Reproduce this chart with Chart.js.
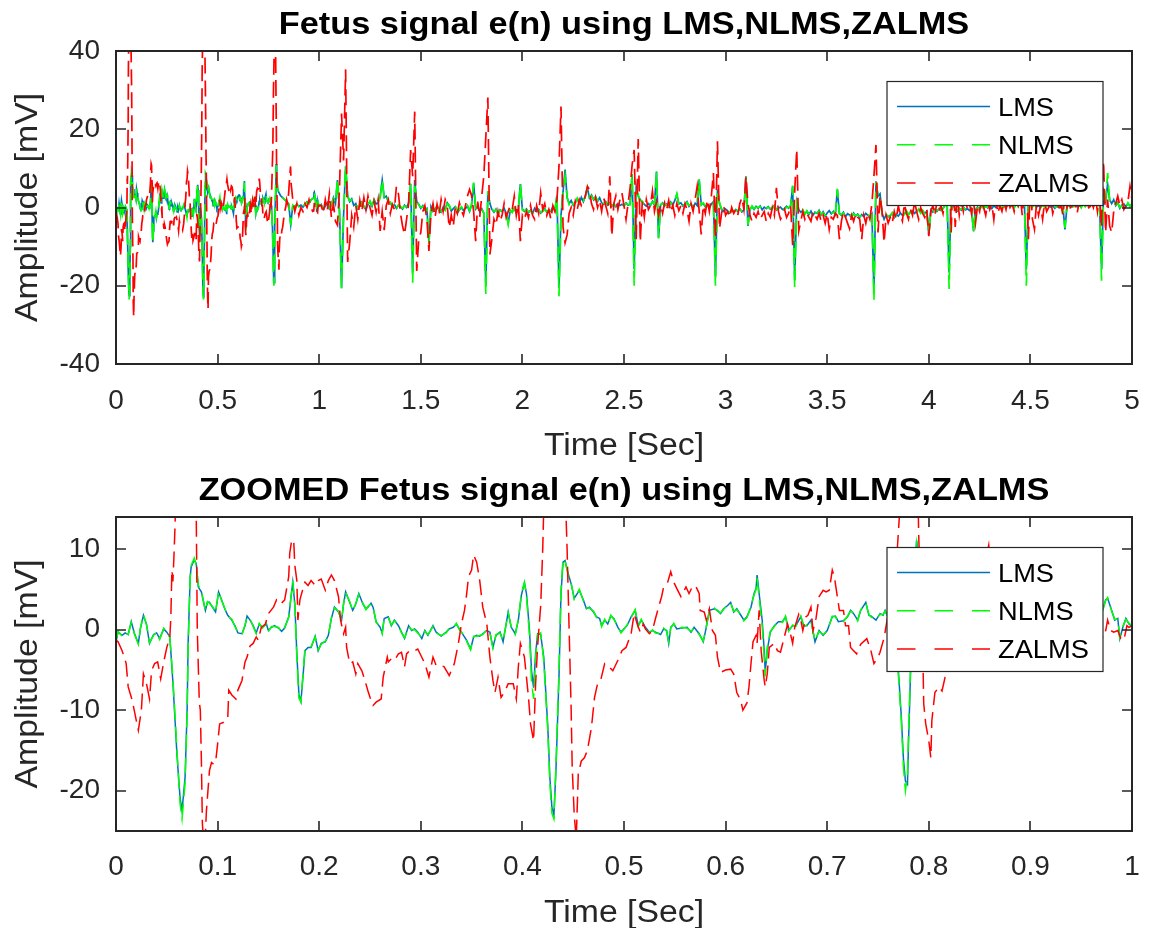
<!DOCTYPE html>
<html>
<head>
<meta charset="utf-8">
<script src="https://cdn.jsdelivr.net/npm/chart.js@4.4.0/dist/chart.umd.min.js"></script>
<style>
  html, body { margin: 0; padding: 0; background: #fff; }
  #wrap { position: relative; width: 1149px; height: 928px; }
  #wrap canvas { position: absolute; left: 0; }
</style>
</head>
<body>
<div id="wrap">
  <canvas id="topChart" width="1149" height="464" style="top:0"></canvas>
  <canvas id="zoomChart" width="1149" height="464" style="top:464px"></canvas>
</div>
<script>
// ---- data (time in s, amplitude in mV) ----
const seriesNames = ['LMS', 'NLMS', 'ZALMS'];
const seriesColors = ['#0072BD', '#00FF00', '#FF0000'];

// first second
const lmsT = [
  0.000, 0.002, 0.006, 0.009, 0.012, 0.015, 0.018, 0.022, 0.024, 0.027,
  0.030, 0.033, 0.037, 0.040, 0.043, 0.047, 0.050, 0.053, 0.056, 0.060,
  0.063, 0.065, 0.068, 0.070, 0.071, 0.073, 0.074, 0.077, 0.079, 0.081,
  0.084, 0.088, 0.090, 0.092, 0.096, 0.098, 0.101, 0.104, 0.107, 0.110,
  0.114, 0.117, 0.120, 0.124, 0.127, 0.129, 0.132, 0.135, 0.138, 0.141,
  0.144, 0.148, 0.150, 0.153, 0.156, 0.160, 0.163, 0.166, 0.170, 0.174,
  0.176, 0.178, 0.180, 0.182, 0.184, 0.186, 0.189, 0.192, 0.196, 0.199,
  0.202, 0.206, 0.209, 0.212, 0.215, 0.219, 0.222, 0.224, 0.226, 0.230,
  0.233, 0.236, 0.239, 0.243, 0.246, 0.248, 0.251, 0.253, 0.256, 0.260,
  0.262, 0.264, 0.268, 0.271, 0.274, 0.278, 0.281, 0.284, 0.288, 0.291,
  0.294, 0.297, 0.301, 0.304, 0.307, 0.312, 0.315, 0.320, 0.325, 0.328,
  0.332, 0.335, 0.338, 0.342, 0.345, 0.349, 0.352, 0.355, 0.358, 0.361,
  0.365, 0.368, 0.371, 0.374, 0.378, 0.381, 0.386, 0.389, 0.393, 0.396,
  0.399, 0.402, 0.404, 0.407, 0.409, 0.411, 0.413, 0.415, 0.418, 0.421,
  0.425, 0.427, 0.429, 0.431, 0.433, 0.436, 0.438, 0.440, 0.442, 0.445,
  0.448, 0.451, 0.456, 0.460, 0.463, 0.466, 0.470, 0.473, 0.476, 0.478,
  0.481, 0.484, 0.487, 0.490, 0.494, 0.497, 0.503, 0.507, 0.511, 0.514,
  0.517, 0.521, 0.525, 0.528, 0.531, 0.536, 0.539, 0.542, 0.544, 0.546,
  0.549, 0.552, 0.557, 0.562, 0.566, 0.569, 0.574, 0.578, 0.581, 0.584,
  0.589, 0.592, 0.595, 0.598, 0.602, 0.605, 0.608, 0.611, 0.615, 0.618,
  0.621, 0.625, 0.628, 0.630, 0.631, 0.633, 0.636, 0.638, 0.639, 0.641,
  0.644, 0.648, 0.652, 0.656, 0.659, 0.662, 0.666, 0.669, 0.674, 0.677,
  0.680, 0.684, 0.688, 0.692, 0.696, 0.700, 0.705, 0.708, 0.711, 0.716,
  0.720, 0.723, 0.726, 0.730, 0.733, 0.738, 0.741, 0.743, 0.748, 0.752,
  0.755, 0.757, 0.760, 0.763, 0.766, 0.770, 0.773, 0.775, 0.777, 0.779,
  0.780, 0.782, 0.785, 0.787, 0.788, 0.791, 0.795, 0.800, 0.810, 0.820,
  0.830, 0.840, 0.850, 0.860, 0.870, 0.880, 0.890, 0.900, 0.910, 0.920,
  0.930, 0.940, 0.950, 0.960, 0.966, 0.971, 0.974, 0.976, 0.980, 0.983,
  0.986, 0.988, 0.991, 0.994, 0.997, 1.000
];
const lmsV = [
  -1.5, -0.3, -0.7, -0.4, -0.6, 1.0, -0.4, -1.7, 0.1, 1.8,
  0.7, -1.7, -0.6, -0.4, -1.1, 0.1, -0.3, -0.9, -6.5, -15.5,
  -20.8, -22.5, -18.3, -10.0, -1.7, 6.6, 7.8, 8.7, 8.2, 5.3,
  4.7, 2.4, 3.4, 3.4, 2.6, 2.2, 4.7, 3.7, 2.6, 1.8,
  1.2, 0.5, -0.4, -0.5, 0.5, 1.7, 1.2, 0.5, -0.4, 0.7,
  0.3, 0.7, -0.1, 0.3, 0.5, 0.2, -0.2, 0.2, 1.6, 5.9,
  3.2, -3.0, -8.0, -8.9, -5.9, -2.6, -2.2, -2.2, -0.8, -2.6,
  -1.7, -1.5, -0.7, 1.4, 2.8, 2.2, 1.2, 3.2, 4.7, 3.4,
  2.4, 3.2, 4.5, 3.2, 2.6, 2.8, 3.3, 2.8, 1.0, 0.3,
  -0.4, 1.4, 1.6, 0.5, 1.2, 0.5, -0.3, -1.1, 0.5, -0.1,
  0.1, -0.3, -1.1, -0.1, -0.7, 0.5, -0.3, -0.8, -0.3, 0.1,
  0.3, 0.7, 0.1, -0.7, -1.3, -2.4, -0.9, -0.7, -0.8, -0.5,
  -0.1, -0.3, -2.2, -0.7, -0.3, -1.5, 2.2, 0.3, -0.5, 1.2,
  4.3, 5.8, 4.5, -0.1, -5.1, -7.2, -3.0, -0.5, -0.6, -3.4,
  -12.1, -18.3, -22.0, -23.0, -17.5, -5.9, 4.5, 8.4, 8.6, 7.0,
  5.7, 3.9, 4.9, 3.7, 2.6, 2.8, 2.2, 1.6, 1.4, 0.5,
  1.2, 0.7, 1.7, 1.4, 0.3, -0.3, 0.5, 1.6, 2.4, 0.5,
  1.2, 0.3, -0.3, -0.1, -0.3, -0.6, 0.1, -0.1, -1.7, 0.3,
  0.7, 0.1, 0.2, 0.3, -0.3, 0.3, -0.5, -1.5, 0.3, 2.4,
  2.6, 2.4, 2.0, 2.6, 3.0, 3.4, 2.2, 2.6, 1.8, 1.2,
  1.6, 2.8, 4.5, 5.1, 6.8, 4.5, 1.2, -2.6, -5.2, -2.6,
  -0.3, 0.5, 1.0, 1.0, 1.6, -0.1, 0.5, 0.5, 1.6, 0.5,
  0.5, 1.2, -1.5, -0.1, -0.7, -0.1, 1.6, 1.7, 1.0, 1.1,
  1.6, 2.4, 2.0, 1.2, 2.4, 3.4, 1.8, 1.7, 1.2, 2.0,
  1.8, 2.4, 1.5, 0.5, -1.0, -5.0, -10.9, -16.0, -18.8, -19.2,
  -14.2, -5.4, 3.0, 9.0, 11.1, 8.0, 5.0, 4.0, 3.0, 2.5,
  2.0, 1.5, 0.8, -4.3, 0.5, 0.2, 0.8, 0.3, 0.6, 0.1,
  0.9, 1.5, 1.0, 2.0, 2.2, 2.4, 3.7, 3.9, 2.4, 1.2,
  1.4, -1.1, 0.3, 1.4, 0.7, 0.4
];
const nlmsV = [
  -1.4, -0.2, -0.8, -0.3, -0.6, 0.9, -0.5, -1.8, 0.2, 1.9,
  0.6, -1.6, -0.7, -0.3, -1.2, 0.2, -0.2, -1.0, -6.0, -15.0,
  -21.5, -23.5, -19.0, -10.5, -2.0, 6.4, 8.0, 8.9, 8.0, 5.5,
  4.9, 2.3, 3.5, 3.3, 2.7, 2.1, 4.8, 3.6, 2.7, 1.7,
  1.3, 0.4, -0.3, -0.6, 0.6, 1.6, 1.3, 0.4, -0.5, 0.8,
  0.2, 0.8, -0.2, 0.4, 0.4, 0.3, -0.3, 0.3, 1.5, 6.1,
  3.0, -3.5, -8.5, -9.0, -5.5, -2.4, -2.3, -2.1, -0.9, -2.5,
  -1.8, -1.4, -0.8, 1.5, 2.7, 2.3, 1.1, 3.3, 4.6, 3.5,
  2.3, 3.3, 4.4, 3.3, 2.5, 2.9, 3.2, 2.9, 0.9, 0.4,
  -0.5, 1.5, 1.5, 0.6, 1.1, 0.6, -0.4, -1.0, 0.4, 0.0,
  0.0, -0.4, -1.0, -0.2, -0.6, 0.4, -0.4, -0.7, -0.4, 0.2,
  0.2, 0.8, 0.0, -0.6, -1.4, -2.5, -0.8, -0.8, -0.7, -0.6,
  0.0, -0.4, -2.3, -0.6, -0.4, -1.4, 2.1, 0.4, -0.6, 1.3,
  4.5, 5.9, 4.2, -0.8, -6.5, -8.6, -3.5, -0.6, -0.4, -3.8,
  -12.5, -19.0, -22.8, -23.5, -17.0, -5.0, 5.0, 8.8, 8.5, 6.8,
  5.8, 3.8, 5.0, 3.6, 2.7, 2.7, 2.3, 1.5, 1.5, 0.4,
  1.3, 0.6, 1.8, 1.3, 0.4, -0.4, 0.6, 1.5, 2.5, 0.4,
  1.3, 0.2, -0.4, 0.0, -0.4, -0.5, 0.2, -0.2, -1.5, 0.2,
  0.8, 0.0, 0.3, 0.2, -0.2, 0.2, -0.6, -1.4, 0.4, 2.3,
  2.7, 2.3, 2.1, 2.5, 3.1, 3.3, 2.3, 2.5, 1.9, 1.1,
  1.5, 2.9, 4.3, 5.0, 6.4, 4.0, 0.5, -3.5, -5.8, -2.2,
  -0.2, 0.4, 1.1, 0.9, 1.7, -0.2, 0.6, 0.4, 1.7, 0.4,
  0.6, 1.1, -1.4, -0.2, -0.6, -0.2, 1.7, 1.6, 1.1, 1.0,
  1.7, 2.3, 2.1, 1.1, 2.5, 3.3, 1.9, 1.6, 1.3, 1.9,
  1.9, 2.3, 1.6, 0.4, -1.2, -5.5, -11.5, -17.0, -20.0, -18.0,
  -13.0, -4.8, 3.5, 9.2, 10.8, 7.8, 5.2, 3.8, 3.1, 2.4,
  2.1, 1.4, 0.9, -4.6, 0.6, 0.1, 0.9, 0.2, 0.7, 0.0,
  1.0, 1.4, 1.1, 1.9, 2.3, 2.3, 3.6, 4.0, 2.3, 1.3,
  1.3, -1.0, 0.4, 1.3, 0.8, 0.5
];
const zaT = [
  0.000, 0.002, 0.006, 0.010, 0.012, 0.016, 0.020, 0.022, 0.025, 0.027,
  0.030, 0.033, 0.035, 0.038, 0.041, 0.044, 0.047, 0.050, 0.053, 0.054,
  0.055, 0.056, 0.057, 0.058, 0.060, 0.061, 0.063, 0.068, 0.072, 0.077,
  0.079, 0.080, 0.082, 0.083, 0.084, 0.085, 0.087, 0.089, 0.092, 0.094,
  0.096, 0.098, 0.100, 0.102, 0.106, 0.110, 0.111, 0.114, 0.118, 0.120,
  0.124, 0.125, 0.127, 0.129, 0.132, 0.135, 0.138, 0.140, 0.143, 0.147,
  0.150, 0.155, 0.158, 0.162, 0.166, 0.170, 0.171, 0.173, 0.175, 0.176,
  0.178, 0.179, 0.181, 0.184, 0.186, 0.189, 0.192, 0.196, 0.199, 0.202,
  0.206, 0.209, 0.212, 0.215, 0.219, 0.221, 0.224, 0.226, 0.227, 0.230,
  0.233, 0.236, 0.238, 0.242, 0.245, 0.248, 0.250, 0.253, 0.256, 0.261,
  0.263, 0.267, 0.268, 0.271, 0.274, 0.278, 0.281, 0.284, 0.286, 0.289,
  0.294, 0.297, 0.304, 0.308, 0.312, 0.315, 0.319, 0.323, 0.328, 0.333,
  0.337, 0.340, 0.343, 0.345, 0.347, 0.350, 0.352, 0.355, 0.358, 0.361,
  0.365, 0.368, 0.371, 0.373, 0.376, 0.379, 0.383, 0.386, 0.391, 0.394,
  0.396, 0.398, 0.402, 0.406, 0.408, 0.411, 0.413, 0.415, 0.418, 0.420,
  0.422, 0.424, 0.428, 0.435, 0.440, 0.443, 0.444, 0.446, 0.448, 0.449,
  0.451, 0.453, 0.455, 0.458, 0.461, 0.464, 0.468, 0.471, 0.474, 0.477,
  0.481, 0.484, 0.489, 0.494, 0.498, 0.502, 0.507, 0.510, 0.513, 0.516,
  0.519, 0.521, 0.525, 0.528, 0.531, 0.534, 0.537, 0.539, 0.543, 0.546,
  0.549, 0.552, 0.556, 0.561, 0.564, 0.568, 0.571, 0.574, 0.575, 0.579,
  0.581, 0.584, 0.587, 0.590, 0.592, 0.595, 0.600, 0.605, 0.608, 0.611,
  0.615, 0.617, 0.621, 0.623, 0.625, 0.627, 0.630, 0.631, 0.633, 0.635,
  0.638, 0.639, 0.641, 0.643, 0.648, 0.651, 0.654, 0.657, 0.661, 0.663,
  0.666, 0.668, 0.672, 0.674, 0.676, 0.679, 0.681, 0.684, 0.686, 0.689,
  0.692, 0.696, 0.699, 0.702, 0.705, 0.707, 0.710, 0.712, 0.716, 0.718,
  0.721, 0.723, 0.726, 0.729, 0.733, 0.739, 0.743, 0.746, 0.750, 0.752,
  0.756, 0.760, 0.763, 0.766, 0.770, 0.772, 0.775, 0.780, 0.785, 0.789,
  0.790, 0.792, 0.794, 0.795, 0.797, 0.800, 0.802, 0.803, 0.806, 0.810,
  0.813, 0.816, 0.820, 0.825, 0.830, 0.835, 0.840, 0.845, 0.850, 0.855,
  0.859, 0.862, 0.870, 0.880, 0.890, 0.900, 0.910, 0.920, 0.930, 0.940,
  0.950, 0.960, 0.968, 0.973, 0.976, 0.979, 0.982, 0.986, 0.989, 0.992,
  0.995, 0.997, 1.000
];
const zaV = [
  -1.3, -1.5, -2.6, -4.2, -7.1, -8.8, -11.3, -12.5, -10.0, -5.5,
  -6.7, -8.6, -5.1, -4.2, -4.0, -6.1, -4.0, -2.2, -0.9, 1.6,
  7.4, 6.0, 9.0, 12.5, 22.0, 35.0, 45.0, 52.0, 48.0, 30.0,
  14.0, 0.0, -9.0, -10.0, -16.0, -24.0, -28.0, -22.5, -17.5, -16.5,
  -16.7, -16.5, -14.2, -11.7, -11.5, -11.0, -7.5, -8.1, -8.6, -7.5,
  -6.3, -5.5, -4.0, -3.4, -2.0, -1.7, -0.9, -1.3, 0.3, 0.7,
  2.0, 2.8, 3.7, 3.2, 3.7, 6.6, 9.5, 11.2, 10.8, 8.0,
  6.1, 1.2, 3.7, 5.1, 5.9, 5.5, 6.1, 5.5, 6.1, 6.3,
  4.9, 6.1, 6.8, 6.1, 4.1, 1.2, -0.5, 0.3, -2.2, -4.2,
  -4.0, -5.5, -4.2, -5.1, -6.3, -7.6, -8.4, -9.4, -9.0, -8.6,
  -5.9, -3.4, -4.0, -3.6, -3.8, -3.0, -2.8, -4.6, -3.0, -2.6,
  -2.6, -2.4, -4.2, -5.9, -3.4, -4.4, -4.4, -4.6, -5.7, -4.2,
  -1.7, 0.7, 2.4, 4.3, 6.6, 7.4, 9.3, 8.4, 6.1, 2.8,
  0.7, -3.4, -6.3, -7.8, -5.9, -8.4, -7.6, -6.7, -6.7, -8.6,
  -4.6, -1.7, -3.4, -8.4, -11.7, -13.8, -6.7, -2.0, 3.0, 10.0,
  20.0, 35.0, 48.0, 50.0, 30.0, 14.0, 10.0, 0.0, -10.0, -17.0,
  -23.0, -26.0, -17.9, -16.3, -15.9, -15.0, -12.1, -8.4, -6.7, -6.3,
  -4.2, -4.4, -5.1, -3.8, -2.6, -2.2, -0.5, 2.0, 0.7, -0.3,
  0.7, 0.1, -0.5, -0.1, 1.4, 2.8, 4.1, 5.3, 5.9, 7.2,
  5.9, 5.1, 4.1, 5.3, 4.5, 5.5, 5.3, 4.5, 2.4, 2.2,
  1.2, 2.6, -0.1, -0.7, -3.4, -5.3, -5.0, -4.9, -5.5, -7.8,
  -8.8, -10.0, -9.1, -7.1, -4.2, -1.5, -0.7, -1.7, 2.4, -2.6,
  -6.3, -7.1, -5.5, -2.2, -1.7, -2.6, -2.8, -1.3, 0.7, -0.1,
  -1.7, 0.3, 1.9, 1.2, -0.1, 1.6, 1.8, 2.8, -0.1, 1.4,
  4.1, 4.9, 4.7, 4.9, 7.4, 6.6, 4.1, 2.4, 2.4, 0.5,
  0.5, -2.2, -2.6, -3.0, -1.8, -1.1, -2.6, -4.2, -3.4, -2.8,
  -1.0, 2.0, 0.0, 4.0, 12.0, 16.0, 30.0, 45.0, 42.0, 20.0,
  12.0, 4.0, -2.0, -9.2, -11.7, -13.8, -15.9, -11.3, -7.8, -7.1,
  -7.6, -5.9, -5.1, -3.0, -1.0, 0.0, 2.0, 1.0, 4.0, 8.0,
  10.5, 6.0, 2.0, -1.0, 1.0, -2.0, 0.0, -1.0, 1.0, 0.0,
  2.0, 0.0, -1.0, -0.9, 1.2, -0.1, -0.3, -0.1, -1.1, -1.3,
  0.5, 0.3, 0.5
];

// 1.01 s .. 5.00 s, one sample every 10 ms
const tailStart = 1.01, tailStep = 0.01;
const lmsTail = [
  0.8, -0.5, 0.3, 1.2, -0.3, 0.6, 2.5, 1.0, 7.0, -1.0,
  -20.5, -2.0, 10.5, 3.0, 1.5, 2.2, 0.5, 1.0, -0.3, 0.6,
  1.4, 0.2, -0.6, 0.8, 1.5, 0.3, 2.0, 0.9, 1.2, 2.8,
  7.0, 2.5, 2.9, 1.5, 1.2, 0.3, 0.8, -0.2, 0.5, 0.1,
  -0.4, 0.6, 0.0, 1.2, 6.0, -16.6, 7.0, 1.5, 0.8, -0.2,
  0.5, -0.6, -0.2, -9.0, 0.2, -1.0, -0.4, 0.3, -0.8, -1.2,
  0.1, -0.5, 1.2, 0.4, -0.9, -0.3, 0.2, -1.4, -0.6, 0.0,
  -0.8, -0.2, 0.3, -1.0, 0.6, 6.2, -0.4, 0.2, -1.1, -0.3,
  -1.5, -20.0, 4.2, 1.0, -0.5, -1.2, -0.4, -1.8, -0.6, -1.0,
  -0.2, -1.5, -4.0, -0.8, -1.1, -0.3, -1.4, -0.5, 6.0, -0.5,
  -1.0, -0.4, -1.3, -0.7, -1.6, -0.2, -1.0, -0.5, -1.4, -0.8,
  -0.3, -1.2, -0.6, -1.0, 0.2, -0.8, 3.0, -20.5, -2.0, 4.0,
  9.7, 2.5, 1.0, 1.8, 0.6, 1.4, 2.2, 1.0, 2.6, 1.5,
  3.0, 5.0, 2.4, 3.2, 2.0, 2.8, 1.6, 2.5, 1.2, 0.8,
  1.5, 0.6, 1.2, 0.3, 0.9, 0.2, 1.0, 0.5, 0.8, 0.4,
  1.2, 0.6, 0.9, 8.5, -15.8, 5.4, 2.9, 2.0, 1.4, 0.8,
  0.3, 1.0, 0.5, 1.6, 0.7, 9.2, -7.7, 0.6, 1.2, 0.4,
  0.9, 0.2, 1.4, 0.6, 1.8, 3.3, 0.9, 1.2, 0.4, 0.8,
  1.5, 0.3, 0.9, 0.0, 1.1, 0.5, 7.1, 0.8, 1.0, 0.2,
  0.6, -0.2, 0.9, 1.5, -17.5, 4.6, 1.0, -0.5, -1.0, -0.4,
  -0.9, -1.4, -0.6, -1.2, -0.5, -1.0, -0.3, -1.1, -0.6, 8.0,
  -4.7, -0.4, 0.2, -0.5, 0.3, -0.2, 0.4, -0.6, 0.1, -0.3,
  0.2, -0.4, -0.1, 0.5, -0.6, -0.2, 0.1, -0.5, -0.3, 0.3,
  -0.2, 0.5, 5.4, -18.5, 1.5, -0.5, -1.2, -0.8, -1.6, -1.0,
  -1.8, -0.9, -2.0, -1.2, -1.5, -0.7, -1.9, -1.1, -2.2, -1.4,
  -0.8, -1.6, -1.0, -1.8, 4.6, -1.5, -2.0, -1.2, -2.4, -1.6,
  -1.9, -2.6, -1.4, -2.2, -1.7, -2.5, -1.8, -2.3, -1.5, -2.0,
  -2.4, -1.6, -21.7, 6.7, 2.9, 3.5, -1.4, -3.0, -1.8, -2.4,
  -2.0, -1.5, -2.6, -1.8, -2.2, -1.4, -2.0, -1.6, -1.0, -1.8,
  -1.2, -0.8, -1.5, -1.0, -0.6, -1.3, -0.9, -1.5, -1.0, -7.0,
  -0.6, -1.2, -0.4, -1.0, -0.3, -0.8, -0.2, 0.5, 1.5, -16.6,
  3.0, 0.8, -0.5, -0.9, -0.2, -0.7, 0.1, -0.6, -0.3, -0.8,
  -0.2, -6.0, -0.5, 0.1, -0.4, 0.3, -0.2, 0.4, -0.1, 0.2,
  -0.3, 0.5, 0.0, 0.6, 0.2, -0.2, 0.4, 0.1, 0.7, 0.3,
  0.5, 0.0, 0.8, 0.4, 1.0, 0.6, 2.0, -15.8, 2.5, 0.8,
  0.3, 0.7, 0.1, 0.5, 0.0, 0.6, 0.2, 0.8, 0.3, 0.1,
  0.5, -0.2, 0.4, 0.0, 0.6, 0.2, -5.6, 0.3, 0.7, 0.1,
  0.4, 0.8, 0.2, 0.6, 0.1, 0.9, 0.4, 0.7, 0.2, 1.0,
  0.5, 1.2, 0.6, 1.5, -15.8, 3.0, 1.5, 6.0, 2.0, 1.0,
  2.0, 0.5, 1.3, -0.2, 0.6, 0.9, 0.2, 1.0, 0.4, 0.8
];
const nlmsTail = [
  0.6, -0.3, 0.5, 1.0, -0.1, 0.8, 2.3, 1.2, 7.3, -1.3,
  -20.7, -1.5, 10.9, 2.7, 1.7, 2.0, 0.7, 0.8, -0.1, 0.4,
  1.2, 0.4, -0.4, 0.6, 1.7, 0.5, 1.8, 1.1, 1.0, 2.6,
  7.1, 2.3, 3.1, 1.3, 1.4, 0.1, 1.0, -0.4, 0.7, 0.3,
  -0.2, 0.4, 0.2, 1.0, 6.3, -19.2, 5.5, 1.7, 0.6, 0.0,
  0.3, -0.4, -0.4, -9.4, 0.4, -0.8, -0.6, 0.5, -0.6, -1.0,
  0.3, -0.7, 1.0, 0.6, -0.7, -0.5, 0.4, -1.2, -0.4, 0.2,
  -0.6, -0.4, 0.5, -0.8, 0.8, 6.4, -0.2, 0.0, -0.9, -0.5,
  -1.3, -22.1, 4.2, 0.8, -0.3, -1.0, -0.6, -1.6, -0.8, -0.8,
  -0.4, -1.3, -4.3, -0.6, -1.3, -0.1, -1.2, -0.7, 6.1, -0.7,
  -0.8, -0.6, -1.1, -0.9, -1.4, -0.4, -0.8, -0.7, -1.2, -1.0,
  -0.5, -1.0, -0.8, -0.8, 0.4, -0.6, 3.2, -22.7, -2.5, 3.5,
  8.0, 2.7, 0.8, 2.0, 0.8, 1.2, 2.4, 1.2, 2.4, 1.7,
  2.8, 5.2, 2.6, 3.0, 2.2, 2.6, 1.8, 2.3, 1.4, 1.0,
  1.3, 0.8, 1.0, 0.5, 0.7, 0.4, 0.8, 0.7, 0.6, 0.6,
  1.0, 0.8, 0.7, 8.8, -20.0, 5.0, 3.1, 1.8, 1.6, 0.6,
  0.5, 0.8, 0.7, 1.4, 0.9, 9.0, -7.9, 0.8, 1.0, 0.6,
  0.7, 0.4, 1.2, 0.8, 1.6, 3.5, 0.7, 1.4, 0.6, 0.6,
  1.3, 0.5, 0.7, 0.2, 0.9, 0.7, 7.3, 0.6, 1.2, 0.4,
  0.4, 0.0, 0.7, 1.7, -20.0, 4.4, 1.2, -0.3, -0.8, -0.6,
  -0.7, -1.2, -0.8, -1.0, -0.7, -0.8, -0.5, -0.9, -0.8, 7.8,
  -4.5, -0.6, 0.4, -0.3, 0.1, 0.0, 0.2, -0.4, 0.3, -0.1,
  0.0, -0.2, -0.3, 0.3, -0.4, -0.4, 0.3, -0.3, -0.5, 0.1,
  0.0, 0.3, 5.6, -20.4, 1.3, -0.3, -1.4, -0.6, -1.8, -0.8,
  -1.6, -1.1, -1.8, -1.4, -1.3, -0.9, -1.7, -1.3, -2.0, -1.6,
  -1.0, -1.4, -1.2, -1.6, 4.8, -1.7, -1.8, -1.4, -2.2, -1.8,
  -1.7, -2.4, -1.6, -2.0, -1.9, -2.3, -2.0, -2.1, -1.7, -1.8,
  -2.2, -1.8, -23.8, 6.5, 3.1, 3.3, -1.6, -2.8, -2.0, -2.2,
  -2.2, -1.3, -2.4, -2.0, -2.0, -1.6, -1.8, -1.8, -0.8, -2.0,
  -1.0, -1.0, -1.3, -1.2, -0.4, -1.5, -0.7, -1.7, -0.8, -6.8,
  -0.8, -1.0, -0.6, -0.8, -0.5, -0.6, -0.4, 0.7, 1.3, -20.8,
  2.6, 1.0, -0.7, -0.7, -0.4, -0.5, -0.1, -0.4, -0.5, -0.6,
  -0.4, -6.4, -0.3, -0.1, -0.2, 0.1, 0.0, 0.2, 0.1, 0.0,
  -0.1, 0.3, 0.2, 0.4, 0.4, -0.4, 0.6, -0.1, 0.9, 0.1,
  0.7, -0.2, 1.0, 0.2, 1.2, 0.4, 2.2, -20.0, 2.2, 1.0,
  0.1, 0.9, -0.1, 0.7, -0.2, 0.8, 0.0, 1.0, 0.1, 0.3,
  0.3, 0.0, 0.2, 0.2, 0.4, 0.4, -5.2, 0.5, 0.5, 0.3,
  0.2, 1.0, 0.0, 0.8, -0.1, 1.1, 0.2, 0.9, 0.0, 1.2,
  0.3, 1.4, 0.4, 1.7, -18.7, 2.5, 1.8, 8.8, 1.8, 1.2,
  1.8, 0.7, 1.1, 0.0, 0.4, 1.1, 0.0, 1.2, 0.2, 1.0
];
const zaTail = [
  0.5, -1.5, 2.0, -0.8, 3.5, -2.5, 1.0, -3.5, -4.5, 5.0,
  24.0, 12.0, 35.3, -13.9, -9.0, -2.0, -5.0, 0.5, -3.0, 1.8,
  -1.0, 2.5, -0.5, 2.9, 0.0, -2.0, 1.5, -1.2, 2.0, -6.0,
  -1.0, -5.8, 0.5, 2.0, -1.5, 0.8, -0.5, 5.4, 3.5, -1.5,
  -4.7, -6.9, -3.0, 1.0, 14.7, 8.0, 24.5, -16.2, -8.0, -6.4,
  -1.0, 0.5, -3.0, -11.1, -1.5, 1.0, -2.5, 0.8, -1.8, 2.0,
  -1.0, 2.0, 0.5, -5.2, -2.0, -4.8, 0.3, -1.5, 1.2, -0.8,
  -2.0, 0.5, 3.0, 4.6, 3.0, -1.0, -8.6, 1.5, -2.5, 3.0,
  8.0, 18.0, 28.1, -12.0, -8.0, -3.0, -4.5, -1.0, -3.5, -2.0,
  1.0, -2.5, -1.0, 0.5, -0.5, 2.9, -2.0, 1.0, -8.6, -2.0,
  -3.0, -1.0, -2.6, 0.5, -2.0, -3.0, 0.5, -1.5, 3.7, -0.5,
  1.0, -2.0, -0.5, -3.0, 0.5, -1.0, 2.0, 10.5, 25.8, -5.0,
  -9.0, -7.0, -1.5, 0.0, -2.0, 1.5, -0.5, 2.0, 0.5, 1.5,
  3.0, 5.4, 4.6, 1.0, -0.5, 2.5, 0.0, 1.8, -1.0, 2.5,
  0.5, -1.5, 8.0, -7.3, 1.0, 3.0, -0.5, 2.0, 3.7, 0.5,
  -3.0, 1.0, 5.0, 10.9, 14.7, -8.1, 17.5, -8.8, 1.5, -2.5,
  2.0, -0.5, 0.5, 4.2, -1.0, 1.5, -2.0, 0.8, -1.5, 1.2,
  -0.5, 1.8, -1.2, 0.6, -2.0, 1.0, -0.8, 0.5, -1.5, 1.0,
  -0.5, -3.5, 1.0, -1.0, 2.0, 5.4, -1.0, -6.9, 0.5, -1.5,
  2.0, -1.0, 3.0, 8.8, -8.0, 16.9, -5.4, -1.5, 0.5, -2.0,
  -1.0, -2.5, 0.0, -1.5, -0.5, -2.0, 1.0, 2.5, -0.5, 8.0,
  1.0, -2.0, -3.5, -1.5, -2.5, -1.0, -3.0, -2.0, -1.0, -3.5,
  -1.5, -2.5, 0.0, -2.0, 5.0, -1.0, -3.0, -2.0, -0.5, -2.5,
  -1.5, 0.5, -9.7, 4.0, 14.9, -6.0, -3.5, -1.0, -3.0, -1.5,
  -2.5, -3.5, -1.0, -2.0, -3.0, -1.5, -3.5, -2.0, -4.0, -1.5,
  -5.6, -2.5, -3.0, -1.5, -2.0, -8.1, -3.5, -1.0, -2.5, -4.0,
  -5.4, -2.0, -3.5, -1.5, -2.5, -3.0, -8.1, -2.0, -4.0, -1.5,
  -3.0, 1.0, 8.0, 16.0, -6.4, 3.0, -1.0, -9.0, -2.0, -4.0,
  -2.5, -4.0, -1.0, -3.0, 0.5, -2.0, -3.5, 1.0, -1.5, -3.0,
  -0.5, -2.0, 1.5, -1.0, -3.0, 0.0, -1.5, -2.5, -0.5, -7.3,
  -1.0, 0.5, -2.0, 1.5, -1.0, 0.5, -1.5, 2.0, 3.0, 12.0,
  -6.4, 10.0, -5.0, 3.0, -2.0, 1.5, -1.0, 2.5, -0.5, 1.0,
  -1.5, 2.0, -3.9, 0.5, -1.0, 2.5, 0.0, -2.0, 1.5, -0.5,
  1.0, -3.1, 2.0, -1.5, 0.5, -1.0, 1.5, -0.5, 2.0, 0.0,
  1.0, -1.0, 2.0, 0.5, 3.0, -2.0, 4.0, 8.0, -8.1, 6.0,
  -3.0, -5.6, 1.0, -2.0, 0.5, -3.0, 1.5, -1.0, 0.0, 2.0,
  -1.5, 0.5, 2.5, -1.0, 1.0, -2.0, 3.0, 0.0, 1.5, -1.0,
  2.0, 0.5, -1.5, 1.5, -0.5, 3.0, 0.0, 2.0, -1.0, 1.5,
  0.0, 2.5, -1.0, 4.0, -5.0, 11.8, -6.4, 2.0, -4.7, -6.4,
  -1.0, 1.0, 2.9, 0.5, 2.0, -0.5, 0.5, 1.5, 5.4, 2.0
];

const topXTicks = [0, 0.5, 1, 1.5, 2, 2.5, 3, 3.5, 4, 4.5, 5];
const topYTicks = [-40, -20, 0, 20, 40];
const zoomXTicks = [0, 0.1, 0.2, 0.3, 0.4, 0.5, 0.6, 0.7, 0.8, 0.9, 1];
const zoomYTicks = [-20, -10, 0, 10];

// ---- build point lists ----
const tailT = lmsTail.map((_, i) => Math.round((tailStart + i * tailStep) * 100) / 100);
function toPoints(ts, vs) { return ts.map((t, i) => ({ x: t, y: vs[i] })); }
const seriesPoints = [
  toPoints(lmsT, lmsV).concat(toPoints(tailT, lmsTail)),
  toPoints(lmsT, nlmsV).concat(toPoints(tailT, nlmsTail)),
  toPoints(zaT, zaV).concat(toPoints(tailT, zaTail))
];

const FONT = "'Liberation Sans', Arial, Helvetica, sans-serif";
const AXIS_COL = '#262626';
const SX = 1.09; // the source text is drawn slightly wide

function wideText(ctx, txt, x, y, align, rot) {
  ctx.save();
  ctx.translate(x, y);
  if (rot) ctx.rotate(rot);
  ctx.scale(SX, 1);
  ctx.textAlign = align;
  ctx.textBaseline = 'alphabetic';
  ctx.fillText(txt, 0, 0);
  ctx.restore();
}

// MATLAB-like box, inner ticks, titles and legend
const matlabFrame = {
  id: 'matlabFrame',
  afterDraw(chart, args, o) {
    const { ctx, chartArea: a, scales } = chart;
    ctx.save();
    ctx.strokeStyle = AXIS_COL;
    ctx.lineWidth = 2;
    ctx.strokeRect(a.left, a.top, a.right - a.left, a.bottom - a.top);
    ctx.lineWidth = 1.6;
    ctx.beginPath();
    o.xTicks.forEach(v => {
      const x = Math.round(scales.x.getPixelForValue(v));
      ctx.moveTo(x, a.bottom); ctx.lineTo(x, a.bottom - 10);
      ctx.moveTo(x, a.top); ctx.lineTo(x, a.top + 10);
    });
    o.yTicks.forEach(v => {
      const y = Math.round(scales.y.getPixelForValue(v));
      ctx.moveTo(a.left, y); ctx.lineTo(a.left + 10, y);
      ctx.moveTo(a.right, y); ctx.lineTo(a.right - 10, y);
    });
    ctx.stroke();

    const cx = (a.left + a.right) / 2;
    ctx.fillStyle = '#000';
    ctx.font = 'bold 31.5px ' + FONT;
    wideText(ctx, o.title, cx, a.top - 17, 'center');
    ctx.fillStyle = AXIS_COL;
    ctx.font = '31px ' + FONT;
    wideText(ctx, 'Time [Sec]', cx, a.bottom + 91, 'center');
    wideText(ctx, 'Amplitude [mV]', 37, (a.top + a.bottom) / 2, 'center', -Math.PI / 2);

    // legend
    const lx = 887, ly = a.top + 30.5, lw = 216, lh = 124;
    ctx.fillStyle = '#fff';
    ctx.fillRect(lx, ly, lw, lh);
    ctx.strokeStyle = AXIS_COL;
    ctx.lineWidth = 1.2;
    ctx.strokeRect(lx, ly, lw, lh);
    const rows = [25, 63.3, 101.6];
    chart.data.datasets.forEach((ds, i) => {
      const y = ly + rows[i];
      ctx.strokeStyle = ds.borderColor;
      ctx.lineWidth = 1.5;
      ctx.setLineDash(i === 0 ? [] : [18.5, 19]);
      ctx.beginPath();
      ctx.moveTo(lx + 10, y); ctx.lineTo(lx + 103, y);
      ctx.stroke();
      ctx.setLineDash([]);
      ctx.fillStyle = '#000';
      ctx.font = '25px ' + FONT;
      wideText(ctx, ds.label, lx + 111, y + 9, 'left');
    });
    ctx.restore();
  }
};

function makeChart(id, cfg) {
  return new Chart(document.getElementById(id), {
    type: 'line',
    data: {
      datasets: seriesNames.map((name, i) => ({
        label: name,
        data: seriesPoints[i],
        borderColor: seriesColors[i],
        borderWidth: cfg.lineW,
        borderDash: i === 0 ? [] : [16, 7],
        pointRadius: 0,
        tension: 0,
        fill: false,
        order: 3 - i
      }))
    },
    options: {
      responsive: false,
      animation: false,
      events: [],
      layout: { padding: { left: 0, right: 17, top: cfg.padTop, bottom: 0 } },
      plugins: {
        legend: { display: false },
        tooltip: { enabled: false },
        title: { display: false },
        matlabFrame: { title: cfg.title, xTicks: cfg.xTicks, yTicks: cfg.yTicks }
      },
      scales: {
        x: {
          type: 'linear',
          min: cfg.xMin, max: cfg.xMax,
          afterBuildTicks: s => { s.ticks = cfg.xTicks.map(v => ({ value: v })); },
          afterFit: s => { s.height = cfg.xAxisH; },
          // tick marks are drawn by the frame plugin; tickLength only offsets the labels
          grid: { display: false, drawTicks: true, tickLength: cfg.xPad },
          border: { display: false },
          ticks: {
            padding: 0, color: AXIS_COL, autoSkip: false, maxRotation: 0, minRotation: 0,
            font: { family: FONT, size: 28 },
            callback: v => String(v)
          }
        },
        y: {
          min: cfg.yMin, max: cfg.yMax,
          afterBuildTicks: s => { s.ticks = cfg.yTicks.map(v => ({ value: v })); },
          afterFit: s => { s.width = 116; },
          grid: { display: false, drawTicks: true, tickLength: 16 },
          border: { display: false },
          ticks: {
            padding: 0, color: AXIS_COL,
            font: { family: FONT, size: 28 },
            callback: v => String(v)
          }
        }
      }
    },
    plugins: [matlabFrame]
  });
}

makeChart('topChart', {
  title: 'Fetus signal e(n) using LMS,NLMS,ZALMS',
  padTop: 51, xAxisH: 100, xPad: 20, lineW: 1.7,
  xMin: 0, xMax: 5, yMin: -40, yMax: 40,
  xTicks: topXTicks, yTicks: topYTicks
});
makeChart('zoomChart', {
  title: 'ZOOMED Fetus signal e(n) using LMS,NLMS,ZALMS',
  padTop: 53, xAxisH: 97, xPad: 19, lineW: 1.5,
  xMin: 0, xMax: 1, yMin: -25, yMax: 14,
  xTicks: zoomXTicks, yTicks: zoomYTicks
});
</script>
</body>
</html>
